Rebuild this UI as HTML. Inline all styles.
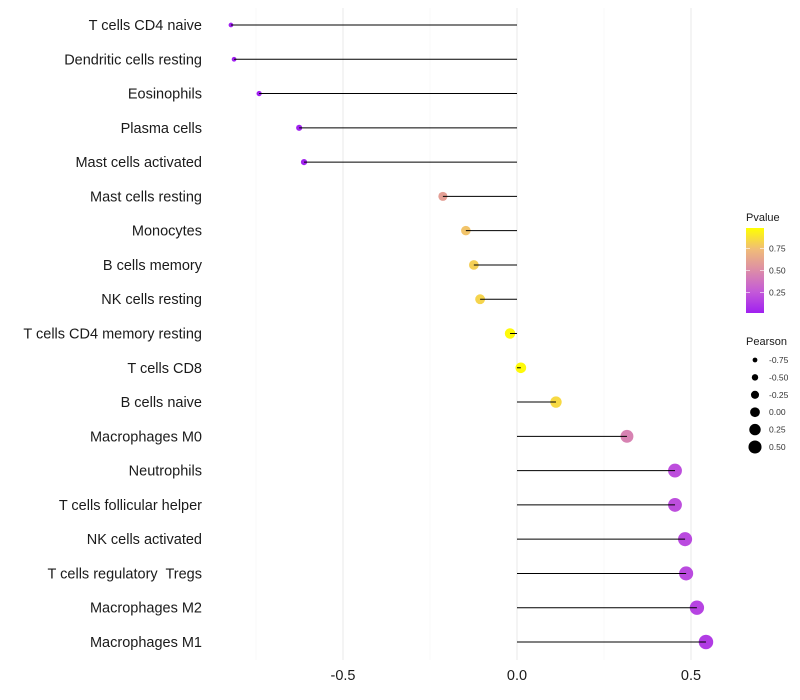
<!DOCTYPE html>
<html><head><meta charset="utf-8"><style>
body{margin:0;background:#fff;}
svg{display:block;font-family:"Liberation Sans",sans-serif;}
text{white-space:pre;}
</style></head><body>
<svg id="chart" width="800" height="700"></svg>
<script>
const categories=["T cells CD4 naive","Dendritic cells resting","Eosinophils","Plasma cells","Mast cells activated","Mast cells resting","Monocytes","B cells memory","NK cells resting","T cells CD4 memory resting","T cells CD8","B cells naive","Macrophages M0","Neutrophils","T cells follicular helper","NK cells activated","T cells regulatory  Tregs","Macrophages M2","Macrophages M1"];
const pearson=[-0.822,-0.813,-0.741,-0.626,-0.612,-0.213,-0.147,-0.124,-0.106,-0.020,0.011,0.112,0.316,0.454,0.454,0.483,0.486,0.517,0.543];
const pvalues=[0.001,0.001,0.002,0.01,0.01,0.6,0.78,0.82,0.84,0.98,0.98,0.86,0.45,0.2,0.2,0.18,0.18,0.15,0.12];
const xTicks=[-0.5,0,0.5];
const xTickLabels=["-0.5","0.0","0.5"];
const pTicks=[0.25,0.5,0.75];
const sizeTicks=[-0.75,-0.5,-0.25,0,0.25,0.5];

const NS="http://www.w3.org/2000/svg";
const svg=document.getElementById('chart');
function el(t,a,p){const e=document.createElementNS(NS,t);for(const k in a)e.setAttribute(k,a[k]);(p||svg).appendChild(e);return e;}
const xScale=v=>517+v*348;
const yScale=i=>25+i*(617/18);
const rScale=v=>5.3+3.6*v;
const stops=[[0,[160,32,240]],[0.25,[196,90,216]],[0.5,[220,140,168]],[0.75,[240,188,120]],[1,[255,255,0]]];
function color(p){for(let i=1;i<stops.length;i++){if(p<=stops[i][0]){const a=stops[i-1],b=stops[i],t=(p-a[0])/(b[0]-a[0]);return 'rgb('+a[1].map((c,j)=>Math.round(c+(b[1][j]-c)*t)).join(',')+')';}}return 'rgb(255,255,0)';}
const pY=p=>313-(p-0.02)*(85/0.96);

[-0.75,-0.5,-0.25,0,0.25,0.5].forEach(v=>{
  const major=(v*2)%1===0;
  const g=el('line',{x1:xScale(v),x2:xScale(v),y1:8,y2:660,stroke:major?'#ebebeb':'#f3f3f3','stroke-width':major?1.1:0.6});
  
  
});
categories.forEach((c,i)=>{
  const y=yScale(i);
  const t=el('text',{x:202,y:y+5,'text-anchor':'end','font-size':14.5,fill:'#1a1a1a'});
  t.textContent=c;
  
  
  const pt=el('circle',{cx:xScale(pearson[i]),cy:y,r:rScale(pearson[i]),fill:color(pvalues[i])});
  
  
  const ln=el('line',{x1:xScale(0),x2:xScale(pearson[i]),y1:y,y2:y,stroke:'#000','stroke-width':1});
  
  
});
xTicks.forEach((v,i)=>{
  const t=el('text',{x:xScale(v),y:680,'text-anchor':'middle','font-size':14.5,fill:'#1a1a1a'});
  t.textContent=xTickLabels[i];
  
  
});
const lt=el('text',{x:746,y:221,'font-size':11,fill:'#1a1a1a'});lt.textContent='Pvalue';


const defs=el('defs',{});
const grad=el('linearGradient',{id:'pg',x1:0,y1:1,x2:0,y2:0},defs);
stops.forEach(s=>el('stop',{offset:s[0],'stop-color':'rgb('+s[1].join(',')+')'},grad));
const cb=el('rect',{x:746,y:228,width:18,height:85,fill:'url(#pg)'});


pTicks.forEach(p=>{
  const y=pY(p);
  el('line',{x1:746,x2:750,y1:y,y2:y,stroke:'#fff','stroke-width':0.6});
  el('line',{x1:760,x2:764,y1:y,y2:y,stroke:'#fff','stroke-width':0.6});
  const t=el('text',{x:769,y:y+3,'font-size':8.5,fill:'#333'});t.textContent=p.toFixed(2);
  
  
});
const st=el('text',{x:746,y:345,'font-size':11,fill:'#1a1a1a'});st.textContent='Pearson';


sizeTicks.forEach((v,i)=>{
  const y=360+i*17.4;
  const c=el('circle',{cx:755,cy:y,r:rScale(v)*0.92,fill:'#000'});
  
  
  const t=el('text',{x:769,y:y+3,'font-size':8.5,fill:'#333'});t.textContent=v.toFixed(2);
  
  
});
</script>
</body></html>
